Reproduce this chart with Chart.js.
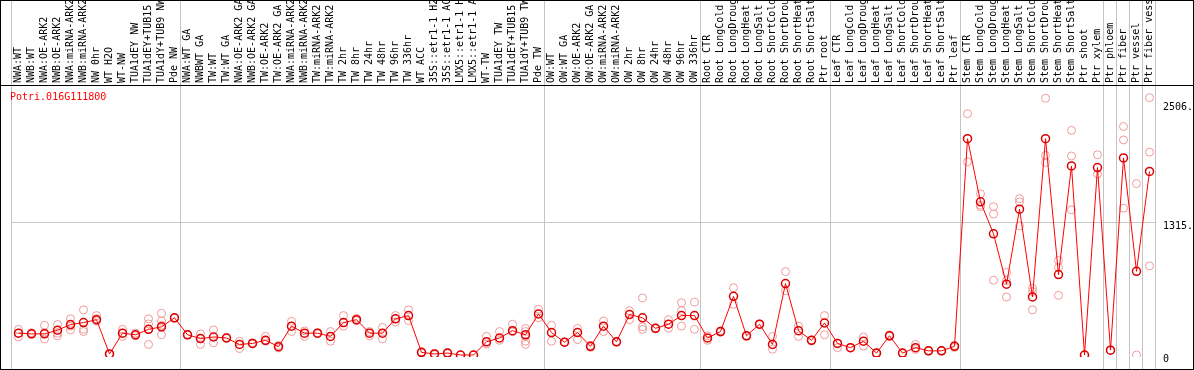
<!DOCTYPE html>
<html>
<head>
<meta charset="utf-8">
<script src="https://cdn.jsdelivr.net/npm/chart.js@4"></script>
<style>
html, body { margin: 0; padding: 0; background: #fff; }
canvas { display: block; }
</style>
</head>
<body>
<canvas id="geneChart" width="1194" height="370"></canvas>
<script>
const geneId = 'Potri.016G111800';

const samples = [
    'NWA:WT', 'NWB:WT', 'NWA:OE-ARK2', 'NWB:OE-ARK2', 'NWA:miRNA-ARK2', 'NWB:miRNA-ARK2', 'NW 0hr', 'WT H2O',
    'WT-NW', 'TUA1dEY NW', 'TUA1dEY+TUB15 NW', 'TUA1dY+TUB9 NW', 'Pde NW',
    'NWA:WT GA', 'NWBWT GA', 'TW:WT', 'TW:WT GA', 'NWA:OE-ARK2 GA', 'NWB:OE-ARK2 GA', 'TW:OE-ARK2', 'TW:OE-ARK2 GA',
    'NWA:miRNA-ARK2 GA', 'NWB:miRNA-ARK2 GA', 'TW:miRNA-ARK2', 'TW:miRNA-ARK2 GA', 'TW 2hr', 'TW 8hr', 'TW 24hr',
    'TW 48hr', 'TW 96hr', 'TW 336hr', 'WT ACC', '35S::etr1-1 H2O', '35S::etr1-1 ACC', 'LMX5::etr1-1 H2O',
    'LMX5::etr1-1 ACC', 'WT-TW', 'TUA1dEY TW', 'TUA1dEY+TUB15 TW', 'TUA1dY+TUB9 TW', 'Pde TW',
    'OW:WT', 'OW:WT GA', 'OW:OE-ARK2', 'OW:OE-ARK2 GA', 'OW:miRNA-ARK2', 'OW:miRNA-ARK2 GA', 'OW 2hr', 'OW 8hr',
    'OW 24hr', 'OW 48hr', 'OW 96hr', 'OW 336hr',
    'Root CTR', 'Root LongCold', 'Root LongDrought', 'Root LongHeat', 'Root LongSalt', 'Root ShortCold',
    'Root ShortDrought', 'Root ShortHeat', 'Root ShortSalt', 'Ptr root',
    'Leaf CTR', 'Leaf LongCold', 'Leaf LongDrought', 'Leaf LongHeat', 'Leaf LongSalt', 'Leaf ShortCold',
    'Leaf ShortDrought', 'Leaf ShortHeat', 'Leaf ShortSalt', 'Ptr leaf',
    'Stem CTR', 'Stem LongCold', 'Stem LongDrought', 'Stem LongHeat', 'Stem LongSalt', 'Stem ShortCold',
    'Stem ShortDrought', 'Stem ShortHeat', 'Stem ShortSalt', 'Ptr shoot', 'Ptr xylem',
    'Ptr phloem', 'Ptr fiber', 'Ptr vessel', 'Ptr fiber vessel'
];

const meanValues = [
    217, 210, 210, 246, 303, 322, 351, 10, 217, 201, 255, 280, 370,
    201, 163, 179, 169, 105, 115, 146, 83, 287, 217, 217, 185, 322, 351, 217, 217, 360, 392,
    26, 10, 19, 0, 0, 131, 169, 242, 201, 408,
    223, 127, 223, 86, 287, 131, 402, 370, 265, 306, 392, 392,
    169, 233, 583, 191, 306, 105, 710, 242, 146, 318,
    115, 73, 137, 19, 191, 19, 73, 41, 41, 86,
    2151, 1523, 1205, 704, 1450, 577, 2151, 800, 1880, 0, 1864,
    48, 1960, 832, 1826
];

const replicateValues = [
    [255, 217, 179], [222, 205], [296, 222, 160], [303, 217, 190], [360, 287, 249], [449, 255, 233],
    [392, 360, 338], [12, 8], [255, 217, 185], [217, 191], [360, 309, 255, 105], [414, 338, 296, 201], [370, 365],
    [205, 198], [210, 163, 105], [249, 121], [175, 165], [137, 64], [122, 110], [185, 137], [95, 70],
    [335, 233], [240, 185], [222, 212], [233, 137], [392, 287], [365, 340], [233, 190], [274, 160],
    [392, 328], [449, 341], [30, 20], [15, 5], [25, 12], [0], [0], [185, 108], [233, 146], [306, 230],
    [264, 233, 185, 137, 105], [456, 370],
    [296, 137], [130, 125], [264, 153], [95, 75], [338, 233], [135, 128], [440, 351], [567, 280, 255],
    [270, 260], [351, 265], [519, 440, 287], [526, 255],
    [191, 146], [240, 225], [669, 504], [195, 185], [310, 300], [185, 57], [829, 638], [287, 185],
    [150, 140], [392, 201],
    [120, 73], [75, 70], [179, 89], [22, 15], [200, 185], [22, 15], [105, 55], [45, 38], [45, 38], [95, 75],
    [2400, 1922], [1603, 1491, 1475], [1475, 1402, 743], [822, 740, 577], [1555, 1523, 1284],
    [663, 631, 449], [2553, 1985, 1915], [940, 870, 593], [2234, 1979, 1444], [0], [1991, 1800],
    [48], [2272, 2139, 1460], [1705, 0], [2559, 2017, 886]
];

const yTicks = [0, 1315, 2506];
// index of the first sample of each block (last entry closes the plot)
const groupStarts = [0, 13, 41, 53, 63, 73, 84, 85, 86, 87, 88];

const replicatePoints = [];
replicateValues.forEach((reps, i) => reps.forEach(v => replicatePoints.push({ x: i, y: v })));

const monoFont = { family: 'DejaVu Sans Mono', size: 10 };

const framePlugin = {
    id: 'frame',
    beforeDatasetsDraw(chart) {
        const ctx = chart.ctx;
        const x = chart.scales.x;
        ctx.save();
        ctx.strokeStyle = '#c4c4c4';
        ctx.lineWidth = 1;
        groupStarts.forEach(i => {
            const px = Math.round(x.getPixelForValue(i - 0.5) - 1.5) + 0.5;
            ctx.beginPath();
            ctx.moveTo(px, 0);
            ctx.lineTo(px, chart.height);
            ctx.stroke();
        });
        ctx.restore();
    },
    afterDraw(chart) {
        const ctx = chart.ctx;
        ctx.save();
        ctx.strokeStyle = '#000';
        ctx.lineWidth = 1;
        ctx.strokeRect(0.5, 0.5, chart.width - 1, chart.height - 1);
        const top = Math.round(chart.chartArea.top) + 0.5;
        ctx.beginPath();
        ctx.moveTo(0, top);
        ctx.lineTo(chart.width, top);
        ctx.stroke();
        ctx.fillStyle = '#ff0000';
        ctx.font = '10px "DejaVu Sans Mono"';
        ctx.textBaseline = 'middle';
        ctx.fillText(geneId, 10, 97);
        ctx.restore();
    }
};

const ctx = document.getElementById('geneChart').getContext('2d');
new Chart(ctx, {
    type: 'line',
    data: {
        labels: samples,
        datasets: [
            {
                label: 'mean',
                data: meanValues,
                xAxisID: 'x',
                borderColor: '#ff0000',
                borderWidth: 1,
                tension: 0,
                pointRadius: 4,
                pointBorderColor: '#dd0000',
                pointBorderWidth: 1.5,
                pointBackgroundColor: 'rgba(0,0,0,0)',
                order: 1
            },
            {
                type: 'scatter',
                label: 'replicates',
                data: replicatePoints,
                xAxisID: 'xr',
                pointRadius: 4,
                borderColor: '#ee9a9a',
                backgroundColor: 'rgba(0,0,0,0)',
                borderWidth: 1,
                order: 2
            }
        ]
    },
    options: {
        responsive: false,
        animation: false,
        devicePixelRatio: 1,
        layout: { padding: { left: 12, right: 0, top: 0, bottom: 2 } },
        plugins: { legend: { display: false }, tooltip: { enabled: false } },
        scales: {
            x: {
                type: 'category',
                position: 'top',
                offset: true,
                grid: { display: false, drawTicks: false },
                border: { display: false },
                ticks: {
                    autoSkip: false, minRotation: 90, maxRotation: 90, padding: 2,
                    labelOffset: 12, color: '#000', font: monoFont
                },
                afterFit: s => { s.height = 85; }
            },
            xr: { type: 'linear', display: false, min: -0.5, max: samples.length - 0.5 },
            y: {
                position: 'right',
                min: -20,
                max: 2685,
                afterBuildTicks: s => { s.ticks = yTicks.map(v => ({ value: v })); },
                grid: { drawTicks: false, color: c => (c.tick && c.tick.value === yTicks[1]) ? '#c8c8c8' : 'rgba(0,0,0,0)' },
                border: { display: false },
                ticks: {
                    padding: 7,
                    color: '#000',
                    font: monoFont,
                    labelOffset: c => c.tick && c.tick.value === 0 ? -4 : 4,
                    callback: v => v === 0 ? '0' : v + '.'
                },
                afterFit: s => { s.width = 38; }
            }
        }
    },
    plugins: [framePlugin]
});
</script>
</body>
</html>
